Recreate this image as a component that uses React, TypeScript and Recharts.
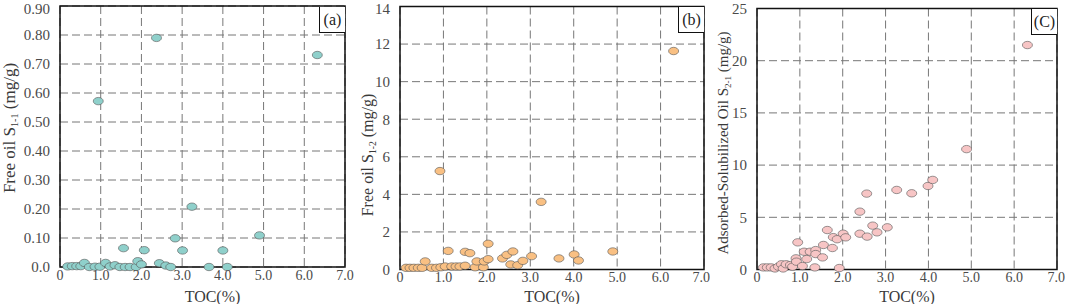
import React from 'react'
import { ScatterChart, Scatter, XAxis, YAxis, CartesianGrid, ReferenceArea } from 'recharts'

// TOC (%) shared ticks
const tocTicks = [0, 1, 2, 3, 4, 5, 6, 7]

// (a) free oil S1-1
const tocA = [0.19, 0.30, 0.41, 0.51, 0.60, 0.72, 0.86, 0.98, 1.12, 1.23, 1.35, 1.47, 1.56, 1.60, 1.72, 1.87, 1.91, 2.00, 2.07, 2.37, 2.44, 2.60, 2.72, 2.83, 3.01, 3.24, 3.66, 4.00, 4.11, 4.90, 6.32, 0.94]
const s11 = [0.002, 0.003, 0.003, 0.003, 0.014, 0.000, 0.001, 0.001, 0.014, 0.002, 0.006, 0.000, 0.065, 0.000, 0.000, 0.000, 0.020, 0.009, 0.058, 0.790, 0.013, 0.005, 0.000, 0.099, 0.057, 0.208, 0.000, 0.057, 0.000, 0.109, 0.731, 0.572]
const ticksA = [0, 0.1, 0.2, 0.3, 0.4, 0.5, 0.6, 0.7, 0.8, 0.9]

// (b) free oil S1-2
const tocB = [0.14, 0.23, 0.32, 0.42, 0.51, 0.58, 0.73, 0.84, 0.94, 1.04, 1.11, 1.19, 1.29, 1.38, 1.50, 1.50, 1.61, 1.73, 1.77, 1.92, 1.94, 2.03, 2.03, 2.36, 2.46, 2.60, 2.55, 2.71, 2.83, 3.03, 3.25, 3.66, 4.01, 4.11, 4.90, 6.30, 0.92]
const s12 = [0.09, 0.09, 0.09, 0.09, 0.09, 0.43, 0.09, 0.09, 0.12, 0.16, 0.99, 0.16, 0.16, 0.16, 0.20, 0.94, 0.87, 0.12, 0.43, 0.12, 0.43, 0.55, 1.37, 0.59, 0.78, 0.96, 0.27, 0.23, 0.46, 0.71, 3.60, 0.59, 0.80, 0.48, 0.96, 11.63, 5.24]
const ticksB = [0, 2, 4, 6, 8, 10, 12, 14]

// (c) adsorbed-solubilized oil S2-1
const tocC = [0.15, 0.24, 0.33, 0.42, 0.50, 0.57, 0.61, 0.68, 0.78, 0.83, 0.91, 0.95, 0.92, 1.06, 1.10, 1.16, 1.24, 1.35, 1.37, 1.37, 1.53, 1.55, 1.64, 1.76, 1.78, 1.87, 1.92, 2.01, 2.07, 2.40, 2.40, 2.56, 2.57, 2.70, 2.80, 3.04, 3.26, 3.61, 3.99, 4.10, 4.89, 6.31]
const s21 = [0.2, 0.2, 0.2, 0.1, 0.27, 0.5, 0.1, 0.5, 0.43, 0.27, 1.07, 2.6, 0.75, 0.33, 1.7, 1.0, 1.7, 0.2, 1.86, 1.48, 1.16, 2.35, 3.78, 2.06, 3.1, 2.9, 0.14, 3.43, 3.08, 5.54, 3.43, 7.27, 3.15, 4.2, 3.56, 4.04, 7.62, 7.3, 8.0, 8.58, 11.53, 21.5]
const ticksC = [0, 5, 10, 15, 20, 25]

const serif = '"Liberation Serif", "Times New Roman", serif'

const makeShape = (fill: string) => (props: any) => (
  <ellipse cx={props.cx} cy={props.cy} rx={5} ry={3.7} fill={fill} stroke="#555" strokeWidth={0.6} />
)

const yLabel = (main: string, sub: string, tail: string, cx: number, cy: number, fs: number) => () => (
  <text
    x={cx}
    y={cy + fs * 0.35}
    transform={`rotate(-90 ${cx} ${cy})`}
    textAnchor="middle"
    fontFamily={serif}
    fontSize={fs}
    fill="#3a3a3a"
  >
    <tspan>{main}</tspan>
    <tspan fontSize={fs * 0.6} dy={fs * 0.2}>{sub}</tspan>
    <tspan dy={-fs * 0.2}>{tail}</tspan>
  </text>
)

type PanelProps = {
  left: number
  tag: string
  xs: number[]
  ys: number[]
  yTicks: number[]
  yFmt: (v: number) => string
  color: string
  yAxisWidth: number
  xAxisHeight: number
  xLabelDx: number
  margin: { top: number; right: number; bottom: number; left: number }
  label: () => React.ReactElement
  box: { left: number; top: number }
}

const Panel = ({ left, tag, xs, ys, yTicks, yFmt, color, yAxisWidth, xAxisHeight, xLabelDx, margin, label, box }: PanelProps) => {
  const data = xs.map((x, i) => ({ x, y: ys[i] }))
  const yMax = yTicks[yTicks.length - 1]
  return (
    <div style={{ position: 'absolute', left, top: 0, width: 355, height: 304 }}>
      <ScatterChart width={355} height={304} margin={margin}>
        <CartesianGrid stroke="#777" strokeDasharray="8 4" strokeWidth={1} />
        <XAxis
          type="number"
          dataKey="x"
          domain={[0, 7]}
          ticks={tocTicks}
          tickFormatter={(v: number) => (v === 0 ? '0' : v.toFixed(1))}
          tickLine={false}
          axisLine={false}
          tickSize={1}
          height={xAxisHeight}
          tick={{ fontFamily: serif, fontSize: 14, fill: '#4a4a4a' }}
          label={{ value: 'TOC(%)', position: 'insideBottom', offset: 1, dx: xLabelDx, fontFamily: serif, fontSize: 16, fill: '#3a3a3a' }}
        />
        <YAxis
          type="number"
          dataKey="y"
          domain={[0, yMax]}
          ticks={yTicks}
          tickFormatter={yFmt}
          tickLine={false}
          axisLine={false}
          tickSize={4}
          tickMargin={6}
          width={yAxisWidth}
          tick={{ fontFamily: serif, fontSize: 15, fill: '#4a4a4a' }}
          label={{ content: label }}
        />
        <ReferenceArea x1={0} x2={7} y1={0} y2={yMax} fill="none" stroke="#111" strokeWidth={1.5} ifOverflow="visible" />
        <Scatter data={data} shape={makeShape(color)} isAnimationActive={false} />
      </ScatterChart>
      <div
        style={{
          position: 'absolute',
          left: box.left,
          top: box.top,
          width: 26,
          height: 26,
          boxSizing: 'border-box',
          border: '1.5px solid #111',
          borderTop: 'none',
          borderRight: 'none',
          background: '#fff',
          fontFamily: serif,
          fontSize: 16,
          lineHeight: '25px',
          textAlign: 'center',
          color: '#222',
        }}
      >
        {tag}
      </div>
    </div>
  )
}

export default function App() {
  return (
    <div style={{ position: 'absolute', left: 0, top: 0, width: 1065, height: 304, background: '#fff' }}>
      <Panel
        left={0}
        tag="(a)"
        xs={tocA}
        ys={s11}
        yTicks={ticksA}
        yFmt={(v: number) => (v === 0 ? '0.0' : v.toFixed(2))}
        color="#8fd0cb"
        yAxisWidth={60}
        xAxisHeight={36}
        xLabelDx={10}
        margin={{ top: 6, right: 10, bottom: 1, left: 0 }}
        label={yLabel('Free oil S', '1-1', ' (mg/g)', 9, 128, 17)}
        box={{ left: 319, top: 7 }}
      />
      <Panel
        left={355}
        tag="(b)"
        xs={tocB}
        ys={s12}
        yTicks={ticksB}
        yFmt={(v: number) => String(v)}
        color="#f9c083"
        yAxisWidth={45}
        xAxisHeight={33.5}
        xLabelDx={0}
        margin={{ top: 6.5, right: 6, bottom: 1, left: 0 }}
        label={yLabel('Free oil S', '1-2', ' (mg/g)', 12, 155, 16)}
        box={{ left: 323, top: 7 }}
      />
      <Panel
        left={710}
        tag="(C)"
        xs={tocC}
        ys={s21}
        yTicks={ticksC}
        yFmt={(v: number) => String(v)}
        color="#f7c5c5"
        yAxisWidth={47}
        xAxisHeight={33.5}
        xLabelDx={0}
        margin={{ top: 8.5, right: 8, bottom: 1, left: 0 }}
        label={yLabel('Adsorbed-Solubilized Oil  S', '2-1', ' (mg/g)', 13, 143, 15)}
        box={{ left: 321, top: 9 }}
      />
    </div>
  )
}
